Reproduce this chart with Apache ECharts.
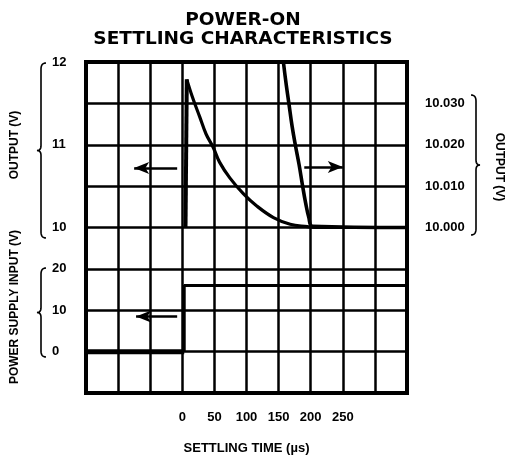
<!DOCTYPE html>
<html>
<head>
<meta charset="utf-8">
<script src="https://cdn.jsdelivr.net/npm/echarts@6/dist/echarts.min.js"></script>
<style>html,body{margin:0;padding:0;background:#fff;}#c{width:506px;height:460px;}</style>
</head>
<body>
<div id="c"></div>
<script>
// ---- data ----
// settling time axis, µs
const timeTicks = [0, 50, 100, 150, 200, 250];
// OUTPUT (V), coarse left scale: rise then decay
const riseTime  = [5, 7];
const riseVolts = [10, 11.79];
const outTime  = [7, 16, 27, 37, 48, 58, 74, 95, 116, 142, 168, 195, 205, 350];
const outVolts = [11.79, 11.57, 11.34, 11.13, 10.97, 10.79, 10.60, 10.41, 10.26, 10.12, 10.04, 10.01, 10.0, 10.0];
// OUTPUT (V), fine right scale
const fineTime  = [154, 158, 162, 166, 171, 176, 182, 187, 192, 197, 203, 350];
const fineVolts = [10.045, 10.0393, 10.0344, 10.030, 10.0245, 10.020, 10.0151, 10.0104, 10.0060, 10.0025, 10.0003, 10.0];
// POWER SUPPLY INPUT (V)
const psTime  = [-150, 3, 3, 350];
const psVolts = [0, 0, 16, 16];
// tick labels
const outTicks  = [10, 11, 12];
const psTicks   = [0, 10, 20];
const fineTicks = [10.000, 10.010, 10.020, 10.030];

const FONT = "'Liberation Sans',Arial,sans-serif";
const near = (v, list, eps) => list.some(t => Math.abs(t - v) < eps);

const zip = (a, b) => a.map((x, i) => [x, b[i]]);
const psOff = zip(psTime.slice(0, 2), psVolts.slice(0, 2));
const psOn  = zip(psTime.slice(1), psVolts.slice(1));

const arrowStyle = {
  symbol: ['none', 'arrow'], symbolSize: [9, 15], silent: true, animation: false,
  label: {show: false}, lineStyle: {color: '#000', width: 2.5, type: 'solid'}
};

// curly brace outline (decoration), sampled as a polyline
function quad(p0, c, p1, out) {
  for (let i = 1; i <= 8; i++) {
    const t = i / 8, u = 1 - t;
    out.push([u*u*p0[0] + 2*u*t*c[0] + t*t*p1[0], u*u*p0[1] + 2*u*t*c[1] + t*t*p1[1]]);
  }
}
function brace(x, y0, y1, d) {
  const ym = (y0 + y1) / 2, pts = [[x - 5*d, y0]];
  quad([x - 5*d, y0], [x, y0], [x, y0 + 6], pts);
  pts.push([x, ym - 5]);
  quad([x, ym - 5], [x, ym], [x + 4*d, ym], pts);
  quad([x + 4*d, ym], [x, ym], [x, ym + 5], pts);
  pts.push([x, y1 - 6]);
  quad([x, y1 - 6], [x, y1], [x - 5*d, y1], pts);
  return {type: 'polyline', shape: {points: pts}, style: {fill: null, stroke: '#000', lineWidth: 1.6}, silent: true};
}

const labelStyle = {color: '#000', fontFamily: FONT, fontWeight: 'bold', fontSize: 13};

const chart = echarts.init(document.getElementById('c'), null, {renderer: 'canvas'});
chart.setOption({
  backgroundColor: '#fff',
  animation: false,
  title: {
    text: 'POWER-ON\nSETTLING CHARACTERISTICS',
    left: 238, top: 5, textAlign: 'center',
    textStyle: {fontFamily: "'DejaVu Sans',sans-serif", fontWeight: 'bold', fontSize: 18.5, lineHeight: 19.5, color: '#000'}
  },
  grid: {left: 86, right: 99, top: 62, bottom: 65, show: true, borderColor: '#000', borderWidth: 4, backgroundColor: 'transparent'},
  xAxis: {
    type: 'value', min: -150, max: 350, interval: 50,
    axisLine: {show: false}, axisTick: {show: false},
    splitLine: {show: true, lineStyle: {color: '#000', width: 2.5}},
    axisLabel: Object.assign({margin: 18,
      formatter: v => near(v, timeTicks, 1e-6) ? String(Math.round(v)) : ''}, labelStyle),
    name: 'SETTLING TIME (\u00b5s)', nameLocation: 'middle', nameGap: 49,
    nameTextStyle: labelStyle
  },
  yAxis: [
    { // coarse output
      type: 'value', position: 'left', min: 8, max: 12, interval: 0.5,
      axisLine: {show: false}, axisTick: {show: false},
      splitLine: {show: true, lineStyle: {color: '#000', width: 2.5}},
      axisLabel: Object.assign({margin: 34, align: 'left',
        formatter: v => near(v, outTicks, 1e-6) ? String(Math.round(v)) : ''}, labelStyle)
    },
    { // power supply
      type: 'value', position: 'left', min: -10, max: 70, interval: 10,
      axisLine: {show: false}, axisTick: {show: false}, splitLine: {show: false},
      axisLabel: Object.assign({margin: 34, align: 'left',
        formatter: v => near(v, psTicks, 1e-6) ? String(Math.round(v)) : ''}, labelStyle)
    },
    { // fine output
      type: 'value', position: 'right', min: 9.96, max: 10.04, interval: 0.01,
      axisLine: {show: false}, axisTick: {show: false}, splitLine: {show: false},
      axisLabel: Object.assign({margin: 18,
        formatter: v => near(v, fineTicks, 1e-6) ? v.toFixed(3) : ''}, labelStyle)
    }
  ],
  series: [
    {
      name: 'Output rise', type: 'line', xAxisIndex: 0, yAxisIndex: 0,
      data: zip(riseTime, riseVolts), showSymbol: false,
      lineStyle: {color: '#000', width: 4}
    },
    {
      name: 'Output', type: 'line', xAxisIndex: 0, yAxisIndex: 0,
      data: zip(outTime, outVolts), smooth: 0.4, showSymbol: false,
      lineStyle: {color: '#000', width: 3.2},
      markLine: Object.assign({data: [[{coord: [-8, 10.72]}, {coord: [-75, 10.72]}]]}, arrowStyle)
    },
    {
      name: 'Output fine', type: 'line', xAxisIndex: 0, yAxisIndex: 2,
      data: zip(fineTime, fineVolts), smooth: 0.4, showSymbol: false,
      lineStyle: {color: '#000', width: 3.6},
      markLine: Object.assign({data: [[{coord: [190, 10.0146]}, {coord: [250, 10.0146]}]]}, arrowStyle)
    },
    {
      name: 'Supply off', type: 'line', xAxisIndex: 0, yAxisIndex: 1,
      data: psOff, showSymbol: false, lineStyle: {color: '#000', width: 5}
    },
    {
      name: 'Supply on', type: 'line', xAxisIndex: 0, yAxisIndex: 1,
      data: psOn, showSymbol: false, lineStyle: {color: '#000', width: 3},
      markLine: Object.assign({data: [[{coord: [-8, 8.5]}, {coord: [-72, 8.5]}]]}, arrowStyle)
    }
  ],
  graphic: [
    brace(41, 63, 238, -1),
    brace(41, 268, 357, -1),
    brace(476, 95, 235, 1),
    {type: 'text', x: 15, y: 145, rotation: Math.PI / 2,
      style: {text: 'OUTPUT (V)', fill: '#000', font: 'bold 12px ' + FONT, textAlign: 'center', textVerticalAlign: 'middle'}},
    {type: 'text', x: 15, y: 307, rotation: Math.PI / 2,
      style: {text: 'POWER SUPPLY INPUT (V)', fill: '#000', font: 'bold 12px ' + FONT, textAlign: 'center', textVerticalAlign: 'middle'}},
    {type: 'text', x: 499, y: 167, rotation: -Math.PI / 2,
      style: {text: 'OUTPUT (V)', fill: '#000', font: 'bold 12px ' + FONT, textAlign: 'center', textVerticalAlign: 'middle'}}
  ]
});
</script>
</body>
</html>
